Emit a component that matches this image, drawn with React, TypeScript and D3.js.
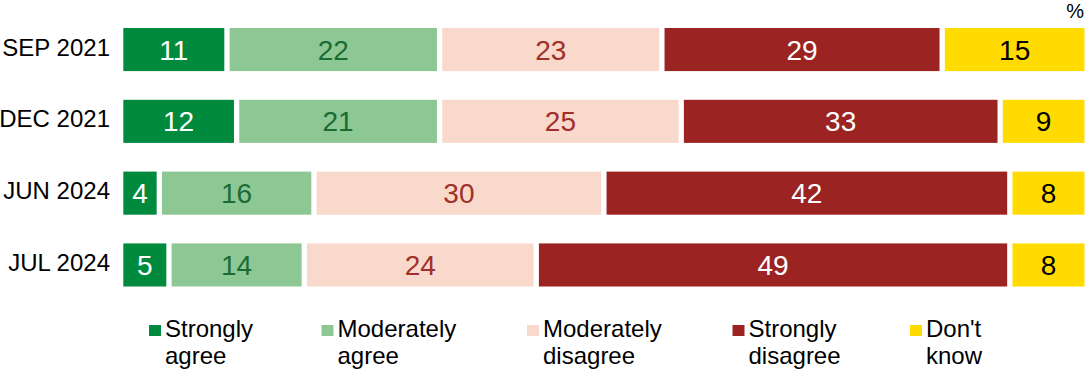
import React from "react";
import * as d3 from "d3";

const categories = ["SEP 2021", "DEC 2021", "JUN 2024", "JUL 2024"];
const seriesNames = ["Strongly agree", "Moderately agree", "Moderately disagree", "Strongly disagree", "Don't know"];
const stronglyAgree = [11, 12, 4, 5];
const moderatelyAgree = [22, 21, 16, 14];
const moderatelyDisagree = [23, 25, 30, 24];
const stronglyDisagree = [29, 33, 42, 49];
const dontKnow = [15, 9, 8, 8];

const colors = ["#008a3e", "#8dc793", "#f9d9cc", "#9b2422", "#ffdb00"];
const textColors = ["#ffffff", "#1b6b35", "#a0302a", "#ffffff", "#000000"];
const legendLines = [["Strongly", "agree"], ["Moderately", "agree"], ["Moderately", "disagree"], ["Strongly", "disagree"], ["Don't", "know"]];
const legendX = [149, 321.5, 527, 732.5, 910];

const W = 1090;
const H = 371;
const FONT = "'Liberation Sans', Arial, Helvetica, sans-serif";

export default function App() {
  const series = [stronglyAgree, moderatelyAgree, moderatelyDisagree, stronglyDisagree, dontKnow];
  const x = d3.scaleLinear().domain([0, 100]).range([123.3, 1089.8]);
  const y = d3.scaleBand().domain(categories).range([28, 286.5]).paddingInner(0.4).paddingOuter(0);
  const gap = 5.3;
  const bh = y.bandwidth();
  return (
    <svg width={W} height={H} style={{ position: "absolute", left: 0, top: 0, background: "#fff" }} fontFamily={FONT}>
      <text x={1084} y={18} fontSize={20} textAnchor="end" fill="#000">%</text>
      {categories.map((cat, i) => {
        const y0 = y(cat)!;
        let cum = 0;
        return (
          <g key={cat}>
            <text x={110} y={y0 + bh / 2 + 6} fontSize={24} textAnchor="end" fill="#000">{cat}</text>
            {series.map((s, j) => {
              const v = s[i];
              const x0 = x(cum);
              const x1 = x(cum + v) - gap;
              cum += v;
              return (
                <g key={j}>
                  <rect x={x0} y={y0} width={x1 - x0} height={bh} fill={colors[j]} />
                  <text x={(x0 + x1) / 2} y={y0 + bh / 2 + 10} fontSize={28} textAnchor="middle" fill={textColors[j]}>{v}</text>
                </g>
              );
            })}
          </g>
        );
      })}
      {seriesNames.map((name, j) => (
        <g key={name}>
          <rect x={legendX[j]} y={325} width={12} height={11} fill={colors[j]} />
          <text x={legendX[j] + 16} y={336.5} fontSize={24} fill="#000">{legendLines[j][0]}</text>
          <text x={legendX[j] + 16} y={364} fontSize={24} fill="#000">{legendLines[j][1]}</text>
        </g>
      ))}
    </svg>
  );
}
